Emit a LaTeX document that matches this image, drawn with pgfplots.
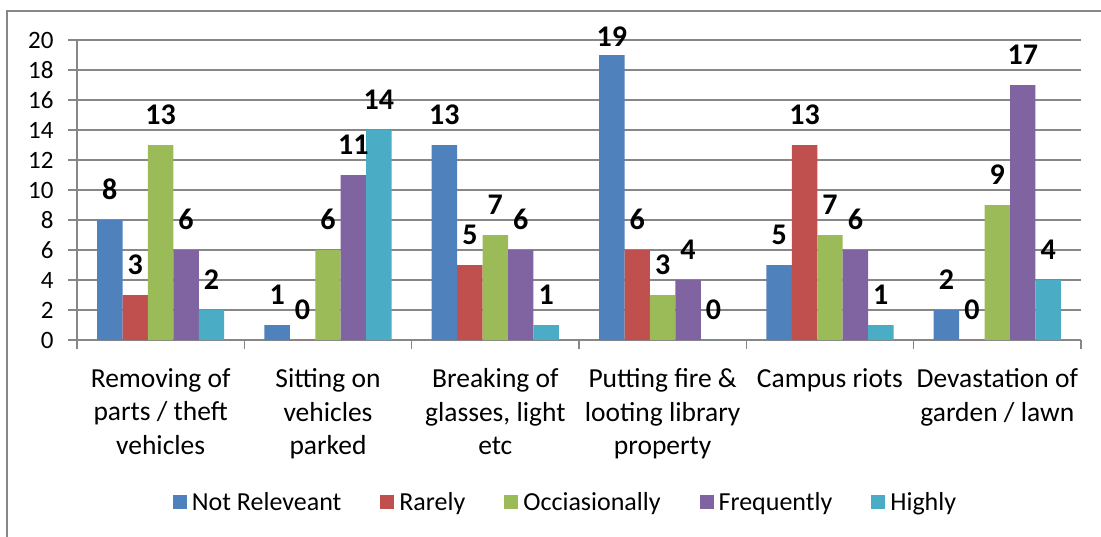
\documentclass[border=0pt]{standalone}
\usepackage{pgfplots}
\pgfplotsset{compat=1.18}
\usepackage{fontspec}
\setmainfont{Carlito}
\definecolor{c1}{HTML}{4F81BD}
\definecolor{c2}{HTML}{C0504D}
\definecolor{c3}{HTML}{9BBB59}
\definecolor{c4}{HTML}{8064A2}
\definecolor{c5}{HTML}{4BACC6}
\definecolor{gridc}{HTML}{878787}
\begin{document}
\begin{tikzpicture}
\useasboundingbox (-77pt,-196pt) rectangle (1024pt,340pt);
\draw[gridc, line width=1.5pt] (-70pt,-210pt) -- (-70pt,329pt) -- (1040pt,329pt);
\begin{axis}[
  at={(0pt,0pt)}, anchor=south west,
  scale only axis, width=1004pt, height=300pt,
  ybar=0pt, bar width=0.152,
  xmin=-0.5, xmax=5.5, ymin=0, ymax=20,
  clip=false,
  axis x line*=bottom, axis y line*=left,
  axis line style={gridc, line width=1.5pt},
  ytick={0,2,...,20},
  ymajorgrids,
  major grid style={gridc, line width=1.5pt},
  tick style={gridc, line width=1.5pt},
  tick align=outside,
  major tick length=9pt,
  xtick={-0.5,0.5,1.5,2.5,3.5,4.5,5.5},
  xticklabels={},
  extra x ticks={0,1,2,3,4,5},
  extra x tick style={major tick length=0pt},
  extra x tick labels={
    {Removing of\\parts / theft\\vehicles},
    {Sitting on\\vehicles\\parked},
    {Breaking of\\glasses, light\\etc},
    {Putting fire \&\\looting library\\property},
    {Campus riots},
    {Devastation of\\garden / lawn}},
  x tick label style={align=center, font=\fontsize{27.5}{33.5}\selectfont, yshift=-25pt},
  y tick label style={font=\fontsize{25}{25}\selectfont, xshift=-11pt},
  /pgf/number format/assume math mode=true,
  nodes near coords,
  visualization depends on={y \as \rawy},
  every node near coord/.append style={font=\fontsize{30}{30}\selectfont\bfseries, anchor=base,
     yshift={(\rawy>18)?9:21}, text=black},
  legend style={draw=none, at={(0.4866,-0.54)}, anchor=center, legend columns=5,
    font=\fontsize{26}{26}\selectfont,
    /tikz/every even column/.append style={column sep=37pt}},
  legend image code/.code={\fill[#1] (0pt,-7pt) rectangle (14pt,7pt); \path (17pt,0pt);},
]
\addplot[fill=c1, draw=none] coordinates {(0,8) (1,1) (2,13) (3,19) (4,5) (5,2)};
\addplot[fill=c2, draw=none] coordinates {(0,3) (1,0) (2,5) (3,6) (4,13) (5,0)};
\addplot[fill=c3, draw=none] coordinates {(0,13) (1,6) (2,7) (3,3) (4,7) (5,9)};
\addplot[fill=c4, draw=none] coordinates {(0,6) (1,11) (2,6) (3,4) (4,6) (5,17)};
\addplot[fill=c5, draw=none] coordinates {(0,2) (1,14) (2,1) (3,0) (4,1) (5,4)};
\legend{Not Releveant, Rarely, Occiasionally, Frequently, Highly}
\end{axis}
\end{tikzpicture}
\end{document}
